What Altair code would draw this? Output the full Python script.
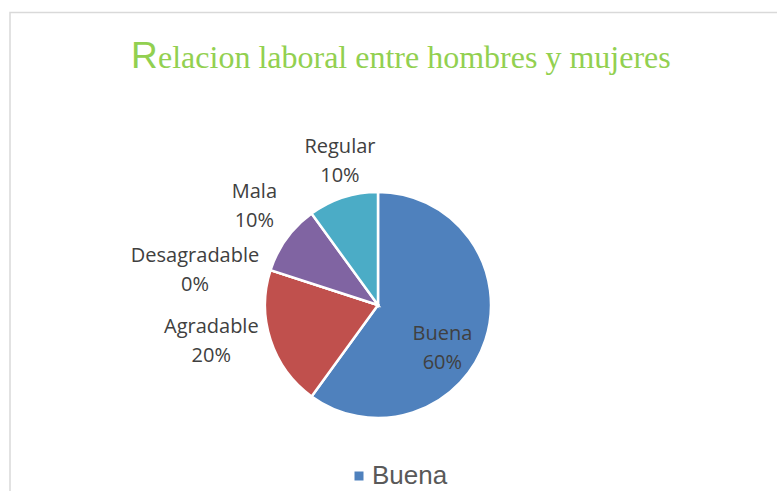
import math
import altair as alt
import pandas as pd

# ---- data ----
categorias = ["Buena", "Agradable", "Desagradable", "Mala", "Regular"]
porcentajes = [60, 20, 0, 10, 10]
colores = ["#4F81BD", "#C0504D", "#9BBB59", "#8064A2", "#4BACC6"]
titulo_inicial = "R"
titulo_resto = "elacion laboral entre hombres y mujeres"

df = pd.DataFrame({
    "categoria": categorias,
    "valor": porcentajes,
    "orden": list(range(len(categorias))),
})
df["etiqueta"] = [f"{c}\n{v}%" for c, v in zip(categorias, porcentajes)]
total = float(sum(porcentajes))

# ---- layout / style ----
CX, CY, R = 378, 305, 113
theta_scale = alt.Scale(domain=[0, total], range=[0, 2 * math.pi])
LINE_SHIFT = -14
label_style = {
    # categoria: (radius, dx, dy)
    "Buena": (74, -6, 20),
    "Agradable": (170, -5, -17),
    "Desagradable": (185, -7, 22),
    "Mala": (159, 5, -6),
    "Regular": (149, 8, -2),
}

base = alt.Chart(df)

pie = base.mark_arc(stroke="white", strokeWidth=2.5).encode(
    theta=alt.Theta("valor:Q", stack=True, scale=theta_scale),
    color=alt.Color(
        "categoria:N",
        sort=categorias,
        scale=alt.Scale(domain=categorias, range=colores),
        legend=alt.Legend(
            values=["Buena"], orient="none", legendX=346, legendY=463,
            title=None, symbolType="square", symbolSize=81, symbolStrokeWidth=0,
            labelFont="Liberation Sans", labelFontSize=26, labelColor="#595959",
            labelOffset=0, padding=0,
        ),
    ),
    order=alt.Order("orden:Q"),
    x=alt.value(CX),
    y=alt.value(CY),
    radius=alt.value(R),
)

label_base = base.transform_window(
    cum="sum(valor)", frame=[None, 0], sort=[alt.SortField("orden")]
).transform_calculate(mid="datum.cum - datum.valor / 2")

label_layers = []
for cat in categorias:
    rad, dx, dy = label_style[cat]
    label_layers.append(
        label_base.transform_filter(alt.datum.categoria == cat)
        .mark_text(
            font="Open Sans", fontSize=20, color="#404040", lineBreak="\n",
            lineHeight=29, align="center", baseline="middle",
            dx=dx, dy=dy + LINE_SHIFT,
        )
        .encode(
            theta=alt.Theta("mid:Q", stack=None, scale=theta_scale),
            radius=alt.value(rad),
            x=alt.value(CX),
            y=alt.value(CY),
            text="etiqueta:N",
        )
    )

one = pd.DataFrame({"t": [0]})
border = alt.Chart(one).mark_rect(
    fillOpacity=0, stroke="#d9d9d9", strokeWidth=1.5
).encode(
    x=alt.value(10), x2=alt.value(800), y=alt.value(12.5), y2=alt.value(560)
)

title_r = alt.Chart(one).mark_text(
    text=titulo_inicial, font="Liberation Sans", fontSize=37, color="#92D050",
    align="left", baseline="alphabetic",
).encode(x=alt.value(131), y=alt.value(68))

title_rest = alt.Chart(one).mark_text(
    text=titulo_resto, font="Liberation Serif", fontSize=32, color="#92D050",
    align="left", baseline="alphabetic",
).encode(x=alt.value(158), y=alt.value(68))

chart = alt.layer(border, pie, *label_layers, title_r, title_rest).properties(
    width=777, height=491, autosize="none", padding=0
).configure_view(stroke=None)

chart.save("out.html", embed_options={"renderer": "svg", "actions": False})
